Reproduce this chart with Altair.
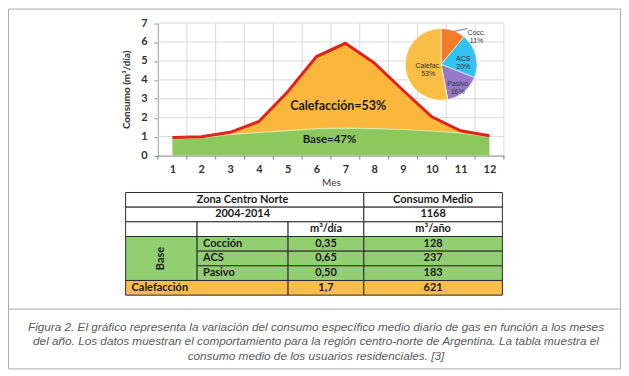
import altair as alt
import pandas as pd

# ---------------- data ----------------
meses = list(range(1, 13))
consumo_total = [0.96, 1.00, 1.23, 1.80, 3.37, 5.23, 5.93, 4.90, 3.45, 2.05, 1.31, 1.05]
consumo_base = [0.90, 0.95, 1.12, 1.22, 1.32, 1.42, 1.45, 1.43, 1.38, 1.30, 1.20, 1.00]
y_ticks = [0, 1, 2, 3, 4, 5, 6, 7]
x_limites = [m + 0.5 for m in range(0, 13)]

pie_cat = ["Cocc.", "ACS", "Pasivo", "Calefac."]
pie_pct = [11, 20, 16, 53]

tabla_zona = "Zona Centro Norte"
tabla_periodo = "2004-2014"
tabla_consumo_tit = "Consumo Medio"
tabla_consumo_total = "1168"
tabla_u_dia = "m³/día"
tabla_u_anio = "m³/año"
base_items = ["Cocción", "ACS", "Pasivo"]
base_dia = ["0,35", "0,65", "0,50"]
base_anio = ["128", "237", "183"]
calef_item = "Calefacción"
calef_dia = "1,7"
calef_anio = "621"

caption = ("Figura 2. El gráfico representa la variación del consumo específico medio diario de gas en función a los meses\n"
           "del año. Los datos muestran el comportamiento para la región centro-norte de Argentina. La tabla muestra el\n"
           "consumo medio de los usuarios residenciales. [3]")

# ---------------- styles ----------------
FONT = "Lato"
ORANGE = "#FAB73C"
GREEN = "#8DC85F"
RED = "#E2231A"
GRID = "#D9D9D9"
AXIS = "#868686"
PIE_COLORS = ["#F47B2A", "#33C3F0", "#9479C9", "#F9BE45"]
T_GREEN = "#92CF72"
T_ORANGE = "#F8BD4A"


def xs():
    return alt.Scale(domain=[0.5, 12.5], range=[150.5, 497.5], nice=False, zero=False)


def ys():
    return alt.Scale(domain=[0, 7], range=[147.5, 14.5], nice=False, zero=False)


def cs():
    return alt.Scale(domain=[0, 1, 2, 3, 4], range=[118, 189.7, 281, 357, 496], nice=False, zero=False)


def rs():
    return alt.Scale(domain=[0, 7], range=[184.5, 287.5], nice=False, zero=False)


df = pd.DataFrame({"mes": meses, "total": consumo_total, "base": consumo_base})
df_grid_y = pd.DataFrame({"g": y_ticks[1:]})
df_grid_x = pd.DataFrame({"b": x_limites})
one = pd.DataFrame({"k": [0]})

x_axis = alt.Axis(orient="bottom", offset=-214.5, values=meses, grid=False, ticks=False, tickSize=0,
                  domainColor=AXIS, labelPadding=8, labelFont=FONT, labelFontSize=11,
                  labelFontWeight="bold", labelColor="#333333", title="Mes", titleFont=FONT,
                  titleFontSize=10, titleFontWeight="normal", titleColor="#333333", titlePadding=3)
y_axis = alt.Axis(orient="left", offset=-150.5, values=y_ticks, format="d", grid=False,
                  domainColor=AXIS, tickColor=AXIS, tickSize=4, labelPadding=7, labelFont=FONT,
                  labelFontSize=11, labelFontWeight="bold", labelColor="#333333",
                  title="Consumo (m³/día)", titleFont=FONT, titleFontSize=10,
                  titleFontWeight="bold", titleColor="#333333", titlePadding=9)

layers = []

# frame
layers.append(alt.Chart(one).mark_rect(filled=False, stroke="#ABABAB", strokeWidth=1).encode(
    x=alt.value(0.5), x2=alt.value(614.5), y=alt.value(0.5), y2=alt.value(361.5)))
layers.append(alt.Chart(one).mark_rule(color="#ABABAB", strokeWidth=1).encode(
    x=alt.value(0), x2=alt.value(615), y=alt.value(301.5)))

# grid
layers.append(alt.Chart(df_grid_y).mark_rule(color=GRID, strokeWidth=1).encode(
    y=alt.Y("g:Q", scale=ys(), axis=None),
    x=alt.XDatum(0.5, scale=xs(), axis=None), x2=alt.X2Datum(12.5)))
layers.append(alt.Chart(df_grid_x).mark_rule(color=GRID, strokeWidth=1).encode(
    x=alt.X("b:Q", scale=xs(), axis=None),
    y=alt.YDatum(0, scale=ys(), axis=None), y2=alt.Y2Datum(7)))
layers.append(alt.Chart(df_grid_x).mark_rule(color=AXIS, strokeWidth=1).encode(
    x=alt.X("b:Q", scale=xs(), axis=None),
    y=alt.value(147.5), y2=alt.value(151.5)))

# areas and line
layers.append(alt.Chart(df).mark_area(color=GREEN, opacity=1).encode(
    x=alt.X("mes:Q", scale=xs(), axis=x_axis),
    y=alt.Y("base:Q", scale=ys(), axis=y_axis),
    y2=alt.Y2Datum(0)))
layers.append(alt.Chart(df).mark_area(color=ORANGE, opacity=1).encode(
    x=alt.X("mes:Q", scale=xs(), axis=None),
    y=alt.Y("total:Q", scale=ys(), axis=None),
    y2="base:Q"))
layers.append(alt.Chart(df).mark_line(color="#D5E8A8", strokeWidth=1.2).encode(
    x=alt.X("mes:Q", scale=xs(), axis=None), y=alt.Y("base:Q", scale=ys(), axis=None)))
layers.append(alt.Chart(df).mark_line(color=RED, strokeWidth=3).encode(
    x=alt.X("mes:Q", scale=xs(), axis=None), y=alt.Y("total:Q", scale=ys(), axis=None)))

layers.append(alt.Chart(one).mark_text(text="Calefacción=53%", font=FONT, fontSize=12.5,
                                       fontWeight="bold", color="#1a1a1a").encode(
    x=alt.XDatum(6.75, scale=xs(), axis=None), y=alt.YDatum(2.63, scale=ys(), axis=None)))
layers.append(alt.Chart(one).mark_text(text="Base=47%", font=FONT, fontSize=11.5,
                                       fontWeight="bold", color="#1a1a1a").encode(
    x=alt.XDatum(6.45, scale=xs(), axis=None), y=alt.YDatum(0.83, scale=ys(), axis=None)))

# ---------------- pie ----------------
pie_df = pd.DataFrame({"cat": pie_cat, "pct": pie_pct, "orden": list(range(len(pie_cat)))})
pie_df["lab"] = [f"{c}\n{p}%" for c, p in zip(pie_cat, pie_pct)]
PX, PY = 434.5, 56

layers.append(alt.Chart(pie_df).mark_arc(radius=36, stroke="white", strokeWidth=0.6).encode(
    theta=alt.Theta("pct:Q", stack=True),
    order=alt.Order("orden:Q"),
    color=alt.Color("cat:N", scale=alt.Scale(domain=pie_cat, range=PIE_COLORS), legend=None),
    x=alt.value(PX), y=alt.value(PY)))

label_cfg = {"Cocc.": (40, 22, 6), "ACS": (23, 0, 0), "Pasivo": (26, 0, 0), "Calefac.": (15, 2, 0)}
for c, (r, dx, dy) in label_cfg.items():
    layers.append(
        alt.Chart(pie_df).mark_text(radius=r, dx=dx, dy=dy, fontSize=7, font="Liberation Sans",
                                    lineBreak="\n", lineHeight=8, color="#333333").encode(
            theta=alt.Theta("pct:Q", stack=True),
            order=alt.Order("orden:Q"),
            text=alt.condition(alt.datum.cat == c, alt.Text("lab:N"), alt.value("")),
            x=alt.value(PX), y=alt.value(PY)))
layers.append(alt.Chart(one).mark_rule(color="#555555", strokeWidth=0.8).encode(
    x=alt.value(447), y=alt.value(23), x2=alt.value(461), y2=alt.value(20)))

# ---------------- table ----------------
cells = [
    (0, 1, 0, 3, "blanco", tabla_zona, "center"),
    (0, 1, 3, 4, "blanco", tabla_consumo_tit, "center"),
    (1, 2, 0, 3, "blanco", tabla_periodo, "center"),
    (1, 2, 3, 4, "blanco", tabla_consumo_total, "center"),
    (2, 3, 0, 1, "blanco", "", "center"),
    (2, 3, 1, 2, "blanco", "", "center"),
    (2, 3, 2, 3, "blanco", tabla_u_dia, "center"),
    (2, 3, 3, 4, "blanco", tabla_u_anio, "center"),
    (3, 6, 0, 1, "base", "Base", "vertical"),
]
for i, (it, d, a) in enumerate(zip(base_items, base_dia, base_anio)):
    r = 3 + i
    cells += [(r, r + 1, 1, 2, "base", it, "left"),
              (r, r + 1, 2, 3, "base", d, "center"),
              (r, r + 1, 3, 4, "base", a, "center")]
cells += [(6, 7, 0, 2, "calef", calef_item, "left"),
          (6, 7, 2, 3, "calef", calef_dia, "center"),
          (6, 7, 3, 4, "calef", calef_anio, "center")]
tdf = pd.DataFrame(cells, columns=["r0", "r1", "c0", "c1", "tipo", "texto", "alinear"])
tdf["xm"] = (tdf["c0"] + tdf["c1"]) / 2
tdf["ym"] = (tdf["r0"] + tdf["r1"]) / 2

layers.append(alt.Chart(tdf).mark_rect(stroke="#2b2b2b", strokeWidth=1).encode(
    x=alt.X("c0:Q", scale=cs(), axis=None), x2="c1:Q",
    y=alt.Y("r0:Q", scale=rs(), axis=None), y2="r1:Q",
    color=alt.Color("tipo:N", scale=alt.Scale(domain=["blanco", "base", "calef"],
                                              range=["#FFFFFF", T_GREEN, T_ORANGE]), legend=None)))
TXT = dict(font=FONT, fontSize=11, fontWeight="bold", color="#1a1a1a")
layers.append(alt.Chart(tdf[tdf.alinear == "center"]).mark_text(**TXT).encode(
    x=alt.X("xm:Q", scale=cs(), axis=None), y=alt.Y("ym:Q", scale=rs(), axis=None), text="texto:N"))
layers.append(alt.Chart(tdf[tdf.alinear == "left"]).mark_text(align="left", dx=6, **TXT).encode(
    x=alt.X("c0:Q", scale=cs(), axis=None), y=alt.Y("ym:Q", scale=rs(), axis=None), text="texto:N"))
layers.append(alt.Chart(tdf[tdf.alinear == "vertical"]).mark_text(angle=270, **TXT).encode(
    x=alt.X("xm:Q", scale=cs(), axis=None), y=alt.Y("ym:Q", scale=rs(), axis=None), text="texto:N"))

# ---------------- caption ----------------
layers.append(alt.Chart(one).mark_text(text=caption, lineBreak="\n", lineHeight=15, align="center",
                                       baseline="middle", font="Liberation Sans", fontStyle="italic",
                                       fontSize=11.8, color="#5a5a5a").encode(
    x=alt.value(309), y=alt.value(319)))

chart = alt.layer(*layers).resolve_scale(
    x="independent", y="independent", color="independent"
).properties(
    width=615, height=362, padding=0, background="white",
    autosize=alt.AutoSizeParams(type="none")
).configure_view(stroke=None)

chart.save("out.html", embed_options={"renderer": "svg", "actions": False})
